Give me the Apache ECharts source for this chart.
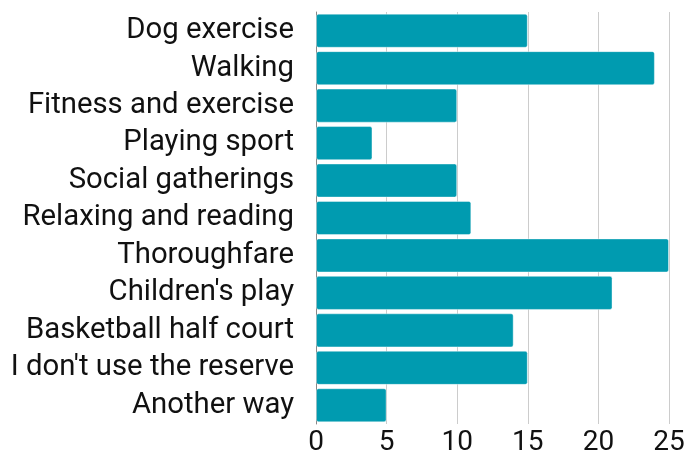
<!DOCTYPE html>
<html><head><meta charset="utf-8">
<script src="https://cdn.jsdelivr.net/npm/echarts@6/dist/echarts.min.js"></script>
<style>html,body{margin:0;padding:0;background:#fff}#c{width:686px;height:457px}</style>
</head><body><div id="c"></div>
<script>
const categories = ["Dog exercise","Walking","Fitness and exercise","Playing sport","Social gatherings","Relaxing and reading","Thoroughfare","Children's play","Basketball half court","I don't use the reserve","Another way"];
const values = [15,24,10,4,10,11,25,21,14,15,5];
const xTicks = [0,5,10,15,20,25];
const chart = echarts.init(document.getElementById('c'));
chart.setOption({
  animation:false,
  textStyle:{fontFamily:'Roboto'},
  grid:{left:316,right:17,top:12,bottom:33,containLabel:false,outerBoundsMode:'none'},
  xAxis:{type:'value',min:xTicks[0],max:xTicks[xTicks.length-1],interval:5,
    axisLine:{show:false},axisTick:{show:false},
    splitLine:{show:true,lineStyle:{color:'#cccccc',width:1}},
    axisLabel:{fontSize:28,lineHeight:28,color:'#111',margin:5,fontFamily:'Roboto'}},
  yAxis:{type:'category',data:categories,inverse:true,
    axisLine:{show:true,lineStyle:{color:'#888',width:1}},axisTick:{show:false},
    axisLabel:{interval:0,hideOverlap:false,fontSize:29.3,lineHeight:30,color:'#111',margin:22,fontFamily:'Roboto'}},
  series:[{type:'bar',data:values,barCategoryGap:'9%',
    itemStyle:{color:'#009bb0',borderRadius:2,borderColor:'rgba(255,255,255,0.4)',borderWidth:1}}]
});
</script></body></html>
